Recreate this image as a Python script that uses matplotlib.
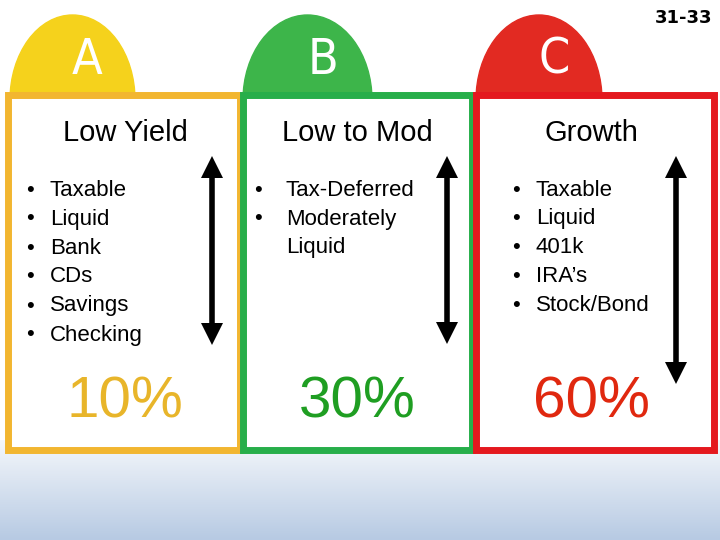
import matplotlib
matplotlib.use("Agg")
import matplotlib.pyplot as plt
import numpy as np
from matplotlib.patches import Rectangle, Ellipse
from matplotlib.colors import LinearSegmentedColormap

letters = ["A", "B", "C"]
titles = ["Low Yield", "Low to Mod", "Growth"]
percents = ["10%", "30%", "60%"]
bullets = [["Taxable", "Liquid", "Bank", "CDs", "Savings", "Checking"],
           ["Tax-Deferred", "Moderately\nLiquid"],
           ["Taxable", "Liquid", "401k", "IRA\u2019s", "Stock/Bond"]]
border_colors = ["#F2B630", "#27AE4A", "#E4181E"]
dome_colors = ["#F5D21C", "#3DB54A", "#E22A22"]
pct_colors = ["#E8B52A", "#1F9E22", "#E0280F"]
page_label = "31-33"

fig = plt.figure(figsize=(7.2, 5.4), dpi=100)
ax = fig.add_axes([0, 0, 1, 1])
ax.set_xlim(0, 720); ax.set_ylim(540, 0); ax.axis("off")

grad = np.linspace(0, 1, 100).reshape(-1, 1)
cm = LinearSegmentedColormap.from_list("bg", ["#F4F7FB", "#B7CAE3"])
ax.imshow(grad, extent=[0, 720, 540, 440], cmap=cm, aspect="auto", zorder=0)

FF = "Liberation Sans"
boxes = [(8, 240), (243, 472), (476, 714)]
domes = [(10, 135), (243, 372), (476, 602)]
for i in range(3):
    x0, x1 = domes[i]
    ax.add_patch(Ellipse(((x0 + x1) / 2, 100), x1 - x0, 170, color=dome_colors[i], zorder=1))
    ax.text((x0 + x1) / 2 + 15, 60, letters[i], color="white", fontsize=36, ha="center",
            va="center", fontfamily="DejaVu Sans", fontstretch="condensed", zorder=3,
            transform=ax.transData)
    b0, b1 = boxes[i]
    ax.add_patch(Rectangle((b0, 95), b1 - b0, 355, facecolor="white",
                           edgecolor=border_colors[i], lw=5, zorder=2))
    tx = [125, 357, 591][i]
    ax.text(tx, 133, titles[i], fontsize=21, ha="center", va="center", zorder=3, fontfamily=FF)
    ax.text(tx, 403, percents[i], fontsize=42, ha="center", va="center",
            color=pct_colors[i], zorder=3, fontfamily=FF)

def bullet_list(items, xb, xt, y0, dy=29):
    y = y0
    for it in items:
        ax.text(xb, y, "\u2022", fontsize=16, va="center", ha="center", zorder=3, fontfamily=FF)
        for ln in it.split("\n"):
            ax.text(xt, y, ln, fontsize=16, va="center", zorder=3, fontfamily=FF)
            y += dy

bullet_list(bullets[0], 30, 50, 190)
bullet_list(bullets[1], 258, 286, 190)
bullet_list(bullets[2], 516, 536, 190, dy=28.8)

arrows = [(212, 158, 343), (447, 158, 342), (676, 158, 382)]
for x, ya, yb in arrows:
    ax.plot([x, x], [ya + 12, yb - 12], color="black", lw=4, zorder=4, solid_capstyle="butt")
    ax.plot([x], [ya + 9], marker="^", ms=16, color="black", zorder=5, markeredgewidth=0)
    ax.plot([x], [yb - 9], marker="v", ms=16, color="black", zorder=5, markeredgewidth=0)

ax.text(712, 18, page_label, fontsize=13, fontweight="bold", ha="right", va="center",
        fontfamily="DejaVu Sans")

fig.savefig("out.png", dpi=100)
